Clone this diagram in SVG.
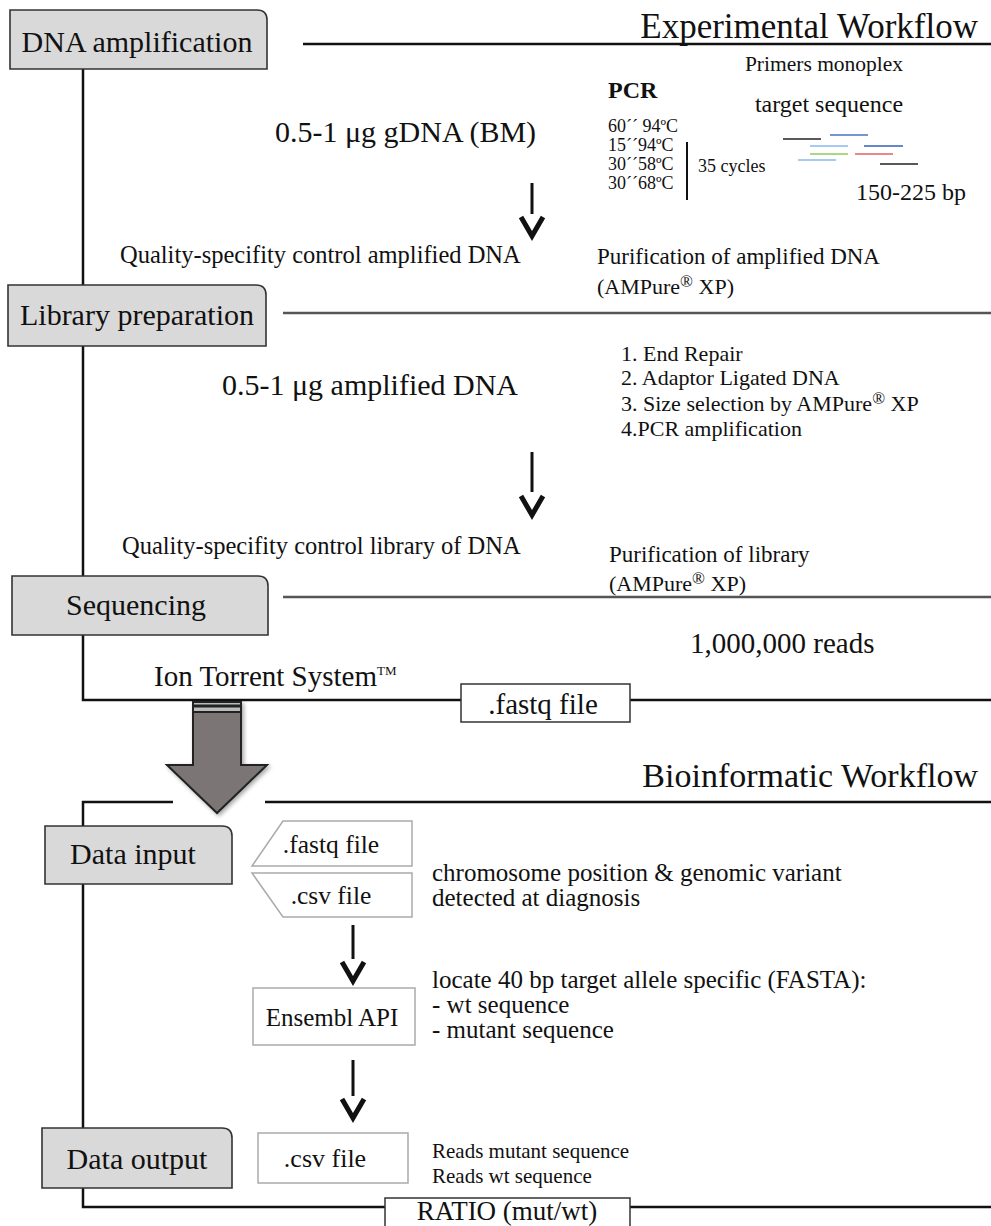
<svg xmlns="http://www.w3.org/2000/svg" width="991" height="1226" viewBox="0 0 991 1226">
<style>
.t{font-family:"Liberation Serif","Times New Roman",serif;fill:#111}
.stage{fill:#d9d9d9;stroke:#333;stroke-width:1.6}
.stxt{font-family:"Liberation Serif","Times New Roman",serif;font-size:30px;fill:#111;text-anchor:middle}
.ln{stroke:#111;stroke-width:2.5;fill:none}
.lg{stroke:#555;stroke-width:2.5;fill:none}
.file{fill:#fff;stroke:#aaa;stroke-width:1.5}
.fbox{fill:#fff;stroke:#333;stroke-width:1.5}
.ash{stroke:#111;stroke-width:3;fill:none}
.ahd{stroke:#111;stroke-width:5;fill:none;stroke-linejoin:miter}
</style>
<defs>
<filter id="sh" x="-20%" y="-20%" width="150%" height="150%"><feGaussianBlur in="SourceAlpha" stdDeviation="2"/><feOffset dx="2" dy="2"/><feComponentTransfer><feFuncA type="linear" slope="0.35"/></feComponentTransfer><feMerge><feMergeNode/><feMergeNode in="SourceGraphic"/></feMerge></filter>
</defs>
<rect width="991" height="1226" fill="#fff"/>
<g id="connectors">
<path class="ln" d="M83,69 V285 M83,346 V576 M83,635 V700 H461 M630,700 H991"/>
<path class="ln" d="M303,44 H991"/>
<path class="lg" d="M283,313 H991"/>
<path class="lg" d="M283,597 H991"/>
<path class="ln" d="M173,802 H83 V826 M83,884 V1128 M83,1188 V1207 H385 M630,1207 H991"/>
<path class="ln" d="M265,802 H991"/>
<path class="ash" d="M532,183 V214"/><path class="ahd" d="M521,217 L532,236 L543,217"/>
<path class="ash" d="M532,452 V492"/><path class="ahd" d="M521,496 L532,515 L543,496"/>
<path class="ash" d="M353,925 V959"/><path class="ahd" d="M342,962 L353,981 L364,962"/>
<path class="ash" d="M353,1060 V1096"/><path class="ahd" d="M342,1099 L353,1118 L364,1099"/>
<g filter="url(#sh)">
<path d="M193,712 V765 H167 L217,813 L267,765 H241 V712 Z" fill="#7b7576" stroke="#222" stroke-width="2"/>
<rect x="193" y="702" width="48" height="10" fill="#bbb" stroke="#222" stroke-width="2"/>
<line x1="193" y1="706" x2="241" y2="706" stroke="#222" stroke-width="3"/>
</g>
</g>
<g id="dna-amplification">
<path class="stage" d="M10,10 H257 Q267,10 267,20 V69 H10 Z"/>
<text class="stxt" x="137" y="52">DNA amplification</text>
</g>
<g id="title-experimental"><text class="t" x="978" y="38" font-size="35" text-anchor="end">Experimental Workflow</text></g>
<g id="pcr">
<text class="t" x="608" y="98" font-size="24" font-weight="bold">PCR</text>
<text class="t" x="608" y="132" font-size="18">60´´ 94ºC</text>
<text class="t" x="608" y="151" font-size="18">15´´94ºC</text>
<text class="t" x="608" y="170" font-size="18">30´´58ºC</text>
<text class="t" x="608" y="189" font-size="18">30´´68ºC</text>
<line x1="687" y1="142" x2="687" y2="200" stroke="#111" stroke-width="2"/>
<text class="t" x="698" y="172" font-size="18">35 cycles</text>
</g>
<g id="primers">
<text class="t" x="824" y="71" font-size="21.5" text-anchor="middle">Primers monoplex</text>
<text class="t" x="829" y="112" font-size="24" text-anchor="middle">target sequence</text>
<g stroke-width="1.5">
<line x1="783" y1="139" x2="821" y2="139" stroke="#222"/>
<line x1="830" y1="135" x2="868" y2="135" stroke="#4a72c4"/>
<line x1="810" y1="146" x2="848" y2="146" stroke="#88b8f0"/>
<line x1="864" y1="146" x2="903" y2="146" stroke="#3060b8"/>
<line x1="810" y1="154" x2="848" y2="154" stroke="#8ccc5a"/>
<line x1="855" y1="154" x2="893" y2="154" stroke="#e06060"/>
<line x1="798" y1="160" x2="836" y2="160" stroke="#88b8f0"/>
<line x1="880" y1="164" x2="918" y2="164" stroke="#222"/>
</g>
<text class="t" x="856" y="200" font-size="24">150-225 bp</text>
</g>
<g id="gdna"><text class="t" x="275" y="142" font-size="30">0.5-1 μg gDNA (BM)</text></g>
<g id="qc1"><text class="t" x="120" y="263" font-size="24.5">Quality-specifity control amplified DNA</text></g>
<g id="purif1">
<text class="t" x="597" y="264" font-size="23">Purification of amplified DNA</text>
<text class="t" x="597" y="294" font-size="22">(AMPure<tspan font-size="17" dy="-7">®</tspan><tspan dy="7"> XP)</tspan></text>
</g>
<g id="library-preparation">
<path class="stage" d="M8,285 H256 Q266,285 266,295 V346 H8 Z"/>
<text class="stxt" x="137" y="325">Library preparation</text>
</g>
<g id="lib-steps">
<text class="t" x="621" y="361" font-size="22">1. End Repair</text>
<text class="t" x="621" y="385" font-size="22">2. Adaptor Ligated DNA</text>
<text class="t" x="621" y="411" font-size="22">3. Size selection by AMPure<tspan font-size="17" dy="-7">®</tspan><tspan dy="7"> XP</tspan></text>
<text class="t" x="621" y="436" font-size="22">4.PCR amplification</text>
</g>
<g id="ampdna"><text class="t" x="222" y="395" font-size="30">0.5-1 μg amplified DNA</text></g>
<g id="qc2"><text class="t" x="122" y="554" font-size="24.5">Quality-specifity control library of DNA</text></g>
<g id="purif2">
<text class="t" x="609" y="562" font-size="23">Purification of library</text>
<text class="t" x="609" y="591" font-size="22">(AMPure<tspan font-size="17" dy="-7">®</tspan><tspan dy="7"> XP)</tspan></text>
</g>
<g id="sequencing">
<path class="stage" d="M12,576 H258 Q268,576 268,586 V635 H12 Z"/>
<text class="stxt" x="136" y="615">Sequencing</text>
</g>
<g id="reads"><text class="t" x="690" y="653" font-size="29">1,000,000 reads</text></g>
<g id="ion"><text class="t" x="154" y="686" font-size="29">Ion Torrent System<tspan font-size="13" dy="-11">TM</tspan></text></g>
<g id="fastq-out">
<rect class="fbox" x="461" y="684" width="169" height="38"/>
<text class="t" x="543" y="714" font-size="29" text-anchor="middle">.fastq file</text>
</g>
<g id="title-bio"><text class="t" x="978" y="787" font-size="34" text-anchor="end">Bioinformatic Workflow</text></g>
<g id="data-input">
<path class="stage" d="M45,826 H222 Q232,826 232,836 V884 H45 Z"/>
<text class="stxt" x="133" y="864" font-size="29">Data input</text>
</g>
<g id="fastq-in">
<path class="file" d="M283,821 H412 V866 H252 Z"/>
<text class="t" x="331" y="853" font-size="25.5" text-anchor="middle">.fastq file</text>
</g>
<g id="csv-in">
<path class="file" d="M252,873 H412 V917 H283 Z"/>
<text class="t" x="331" y="904" font-size="25.5" text-anchor="middle">.csv file</text>
</g>
<g id="chrom">
<text class="t" x="432" y="881" font-size="25">chromosome position &amp; genomic variant</text>
<text class="t" x="432" y="906" font-size="25">detected at diagnosis</text>
</g>
<g id="ensembl">
<rect class="file" x="253" y="988" width="162" height="57"/>
<text class="t" x="332" y="1026" font-size="25" text-anchor="middle">Ensembl API</text>
</g>
<g id="locate">
<text class="t" x="432" y="988" font-size="25">locate 40 bp target allele specific (FASTA):</text>
<text class="t" x="432" y="1013" font-size="25">- wt sequence</text>
<text class="t" x="432" y="1038" font-size="25">- mutant sequence</text>
</g>
<g id="data-output">
<path class="stage" d="M42,1128 H222 Q232,1128 232,1138 V1188 H42 Z"/>
<text class="stxt" x="137" y="1169" font-size="29">Data output</text>
</g>
<g id="csv-out">
<rect class="file" x="258" y="1133" width="150" height="50"/>
<text class="t" x="325" y="1167" font-size="26" text-anchor="middle">.csv file</text>
</g>
<g id="reads-out">
<text class="t" x="432" y="1158" font-size="21">Reads mutant sequence</text>
<text class="t" x="432" y="1183" font-size="21">Reads wt sequence</text>
</g>
<g id="ratio">
<rect class="fbox" x="385" y="1198" width="245" height="32"/>
<text class="t" x="507" y="1220" font-size="27" text-anchor="middle">RATIO (mut/wt)</text>
</g>
</svg>
